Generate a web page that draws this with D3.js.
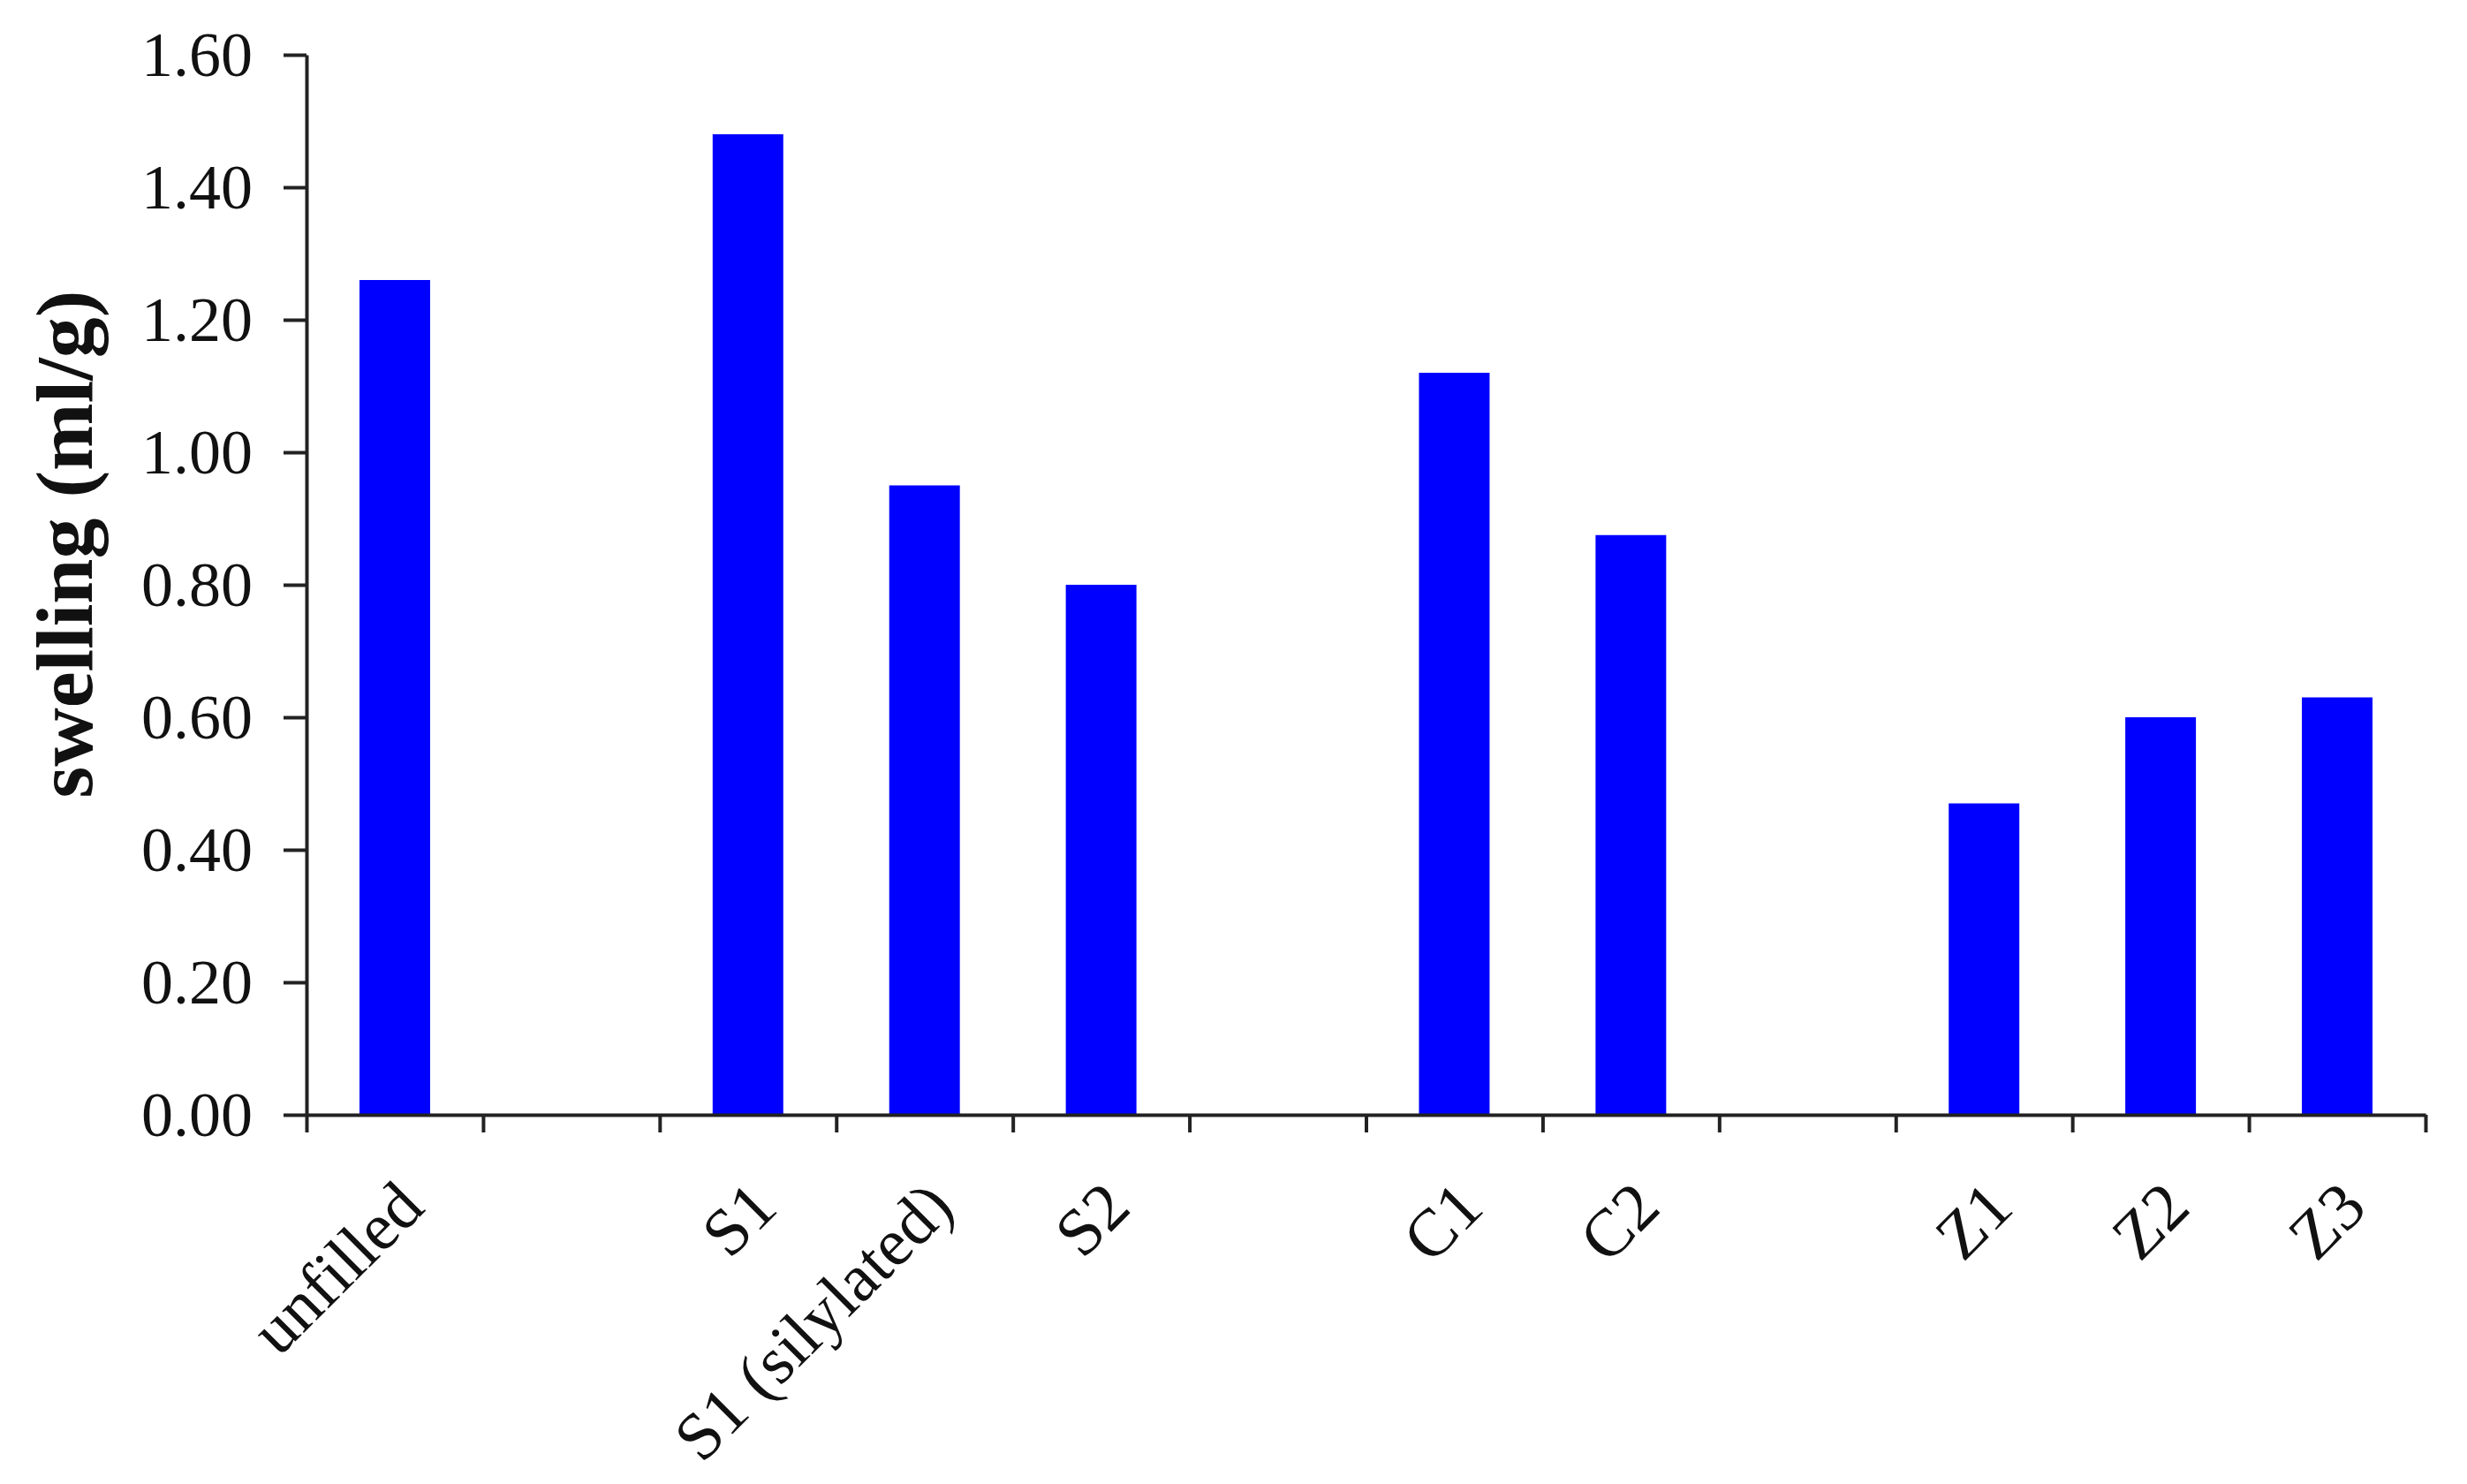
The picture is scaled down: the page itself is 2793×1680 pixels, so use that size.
<!DOCTYPE html>
<html>
<head>
<meta charset="utf-8">
<script src="https://cdn.jsdelivr.net/npm/d3@7"></script>
<style>
  body { margin: 0; background: #fff; }
  text { font-family: "Liberation Serif", "Times New Roman", serif; }
</style>
</head>
<body>
<div id="chart"></div>
<script>
// data
const categories = ["unfilled", "", "S1", "S1 (silylated)", "S2", "", "C1", "C2", "", "Z1", "Z2", "Z3"];
const swelling = [1.26, null, 1.48, 0.95, 0.80, null, 1.12, 0.875, null, 0.47, 0.60, 0.63];
const yTicks = [0, 0.2, 0.4, 0.6, 0.8, 1.0, 1.2, 1.4, 1.6];
const yTitle = "swelling (ml/g)";

const W = 2793, H = 1680;
const margin = {top: 62, right: 47, bottom: 418, left: 347};
const width = W - margin.left - margin.right,
      height = H - margin.top - margin.bottom;

const svg = d3.select("#chart")
    .append("svg")
    .attr("width", W)
    .attr("height", H)
    .append("g")
    .attr("transform", `translate(${margin.left},${margin.top})`);

const xScale = d3.scaleBand()
    .domain(d3.range(categories.length))
    .range([0, width])
    .padding(0);
const xEdges = d3.scaleLinear()
    .domain([0, categories.length])
    .range([0, width]);
const yScale = d3.scaleLinear()
    .domain([0, 1.6])
    .range([height, 0]);

// bars
const barW = xScale.bandwidth() * 0.4;
svg.selectAll(".bar")
   .data(swelling.map((v, i) => ({i, v})).filter(d => d.v != null))
   .enter()
   .append("rect")
   .attr("class", "bar")
   .attr("x", d => xScale(d.i) + (xScale.bandwidth() - barW) / 2)
   .attr("width", barW)
   .attr("y", d => yScale(d.v))
   .attr("height", d => height - yScale(d.v))
   .attr("fill", "#0000ff");

// y axis
const yAxis = d3.axisLeft(yScale)
    .tickValues(yTicks)
    .tickFormat(d3.format(".2f"))
    .tickSize(26)
    .tickSizeOuter(0)
    .tickPadding(35);
const drawY = svg.append("g").attr("class", "axis y-axis").call(yAxis);
drawY.select(".domain").attr("stroke", "#222").attr("stroke-width", 4);
drawY.selectAll(".tick line").attr("stroke", "#222").attr("stroke-width", 4);
drawY.selectAll(".tick text")
     .attr("font-size", 72)
     .attr("font-family", "Liberation Serif")
     .attr("fill", "#111");

// x axis: ticks on category boundaries
const xAxisEdges = d3.axisBottom(xEdges)
    .ticks(categories.length)
    .tickFormat("")
    .tickSize(20)
    .tickSizeOuter(0);
const drawX = svg.append("g")
    .attr("class", "axis x-axis")
    .attr("transform", `translate(0,${height})`)
    .call(xAxisEdges);
drawX.select(".domain").attr("stroke", "#222").attr("stroke-width", 4);
drawX.selectAll(".tick line").attr("stroke", "#222").attr("stroke-width", 4);

// x labels, rotated
const xAxisLabels = d3.axisBottom(xScale)
    .tickFormat(i => categories[i])
    .tickSize(0);
const drawXL = svg.append("g")
    .attr("class", "axis x-labels")
    .attr("transform", `translate(0,${height})`)
    .call(xAxisLabels);
drawXL.select(".domain").remove();
drawXL.selectAll(".tick text")
      .attr("x", 0).attr("y", 0).attr("dy", 0)
      .attr("text-anchor", "end")
      .attr("transform", "translate(36,108) rotate(-45)")
      .attr("font-size", 76)
      .attr("font-family", "Liberation Serif")
      .attr("fill", "#111");

// y title
svg.append("text")
   .attr("transform", `translate(${104 - margin.left},${616 - margin.top}) rotate(-90)`)
   .attr("text-anchor", "middle")
   .attr("font-size", 92)
   .attr("font-weight", "bold")
   .attr("fill", "#111")
   .text(yTitle);
</script>
</body>
</html>
